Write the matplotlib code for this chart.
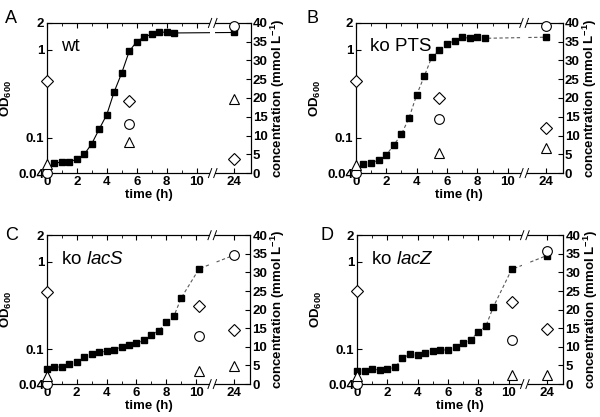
import numpy as np
import matplotlib
matplotlib.use('Agg')
import matplotlib.pyplot as plt
from matplotlib.patches import Rectangle

plt.rcParams['font.family'] = ['Liberation Sans', 'DejaVu Sans']
plt.rcParams['mathtext.fontset'] = 'custom'
plt.rcParams['mathtext.rm'] = 'Liberation Sans'
plt.rcParams['mathtext.bf'] = 'Liberation Sans:bold'
plt.rcParams['mathtext.it'] = 'Liberation Sans:italic'

# ---- data ----
# OD600 (left axis, filled squares)
t_ab = [0.5, 1, 1.5, 2, 2.5, 3, 3.5, 4, 4.5, 5, 5.5, 6, 6.5, 7, 7.5, 8, 8.5, 24]
od_wt = [0.052, 0.053, 0.054, 0.057, 0.065, 0.086, 0.126, 0.183, 0.334, 0.543,
         0.955, 1.23, 1.39, 1.49, 1.56, 1.58, 1.54, 1.56]
od_pts = [0.051, 0.052, 0.056, 0.064, 0.083, 0.110, 0.168, 0.306, 0.498, 0.824,
          0.981, 1.16, 1.26, 1.38, 1.34, 1.39, 1.34, 1.38]
t_cd = [0, 0.5, 1, 1.5, 2, 2.5, 3, 3.5, 4, 4.5, 5, 5.5, 6, 6.5, 7, 7.5, 8, 8.5, 9, 10.2, 24]
od_lacs = [0.059, 0.062, 0.063, 0.067, 0.071, 0.081, 0.087, 0.092, 0.095, 0.097, 0.107,
           0.112, 0.117, 0.126, 0.146, 0.163, 0.204, 0.237, 0.386, 0.83, 1.18]
od_lacz = [0.057, 0.057, 0.059, 0.058, 0.059, 0.062, 0.079, 0.088, 0.085, 0.090, 0.096,
           0.098, 0.098, 0.105, 0.118, 0.128, 0.157, 0.184, 0.306, 0.813, 1.17]

# concentrations (right axis, mmol/L) sampled at three times
t_samp_ab = [0, 5.5, 24]
t_samp_cd = [0, 10.2, 24]
diam = {'A': [24.4, 19.3, 3.8], 'B': [24.5, 19.9, 12.0],
        'C': [24.7, 21.0, 14.4], 'D': [24.9, 22.0, 14.7]}
circ = {'A': [0, 13.2, 39.3], 'B': [0, 14.3, 39.3],
        'C': [0, 12.8, 34.6], 'D': [0, 11.9, 35.7]}
tri = {'A': [2.3, 8.3, 19.6], 'B': [2.2, 5.4, 6.7],
       'C': [2.2, 3.4, 4.9], 'D': [2.2, 2.4, 2.5]}

panels = [
    ('A', 'wt', t_ab, od_wt, t_samp_ab, '-'),
    ('B', 'ko PTS', t_ab, od_pts, t_samp_ab, '--'),
    ('C', r'ko $\mathit{lacS}$', t_cd, od_lacs, t_samp_cd, '--'),
    ('D', r'ko $\mathit{lacZ}$', t_cd, od_lacz, t_samp_cd, '--'),
]

# broken time axis: 0..B1 then B2..XMAX
B1, B2, XMAX = 11.07, 22.57, 25.1
EPS = 1e-3


def fwd(t):
    t = np.asarray(t, float)
    return np.where(t <= B1, t,
                    np.where(t >= B2, B1 + (B2 - B1) * EPS + (t - B2),
                             B1 + (t - B1) * EPS))


def inv(x):
    x = np.asarray(x, float)
    xm = B1 + (B2 - B1) * EPS
    return np.where(x <= B1, x,
                    np.where(x >= xm, B2 + (x - xm), B1 + (x - B1) / EPS))


positions = {'A': [0.078, 0.585, 0.340, 0.360],
             'B': [0.593, 0.585, 0.345, 0.360],
             'C': [0.078, 0.079, 0.339, 0.357],
             'D': [0.595, 0.079, 0.344, 0.357]}
letter_pos = {'A': (0.008, 0.975), 'B': (0.51, 0.975),
              'C': (0.008, 0.455), 'D': (0.535, 0.455)}

fig = plt.figure(figsize=(6, 4.17), dpi=100)

for key, name, t, od, ts, ls in panels:
    ax = fig.add_axes(positions[key])
    ax.set_xscale('function', functions=(fwd, inv))
    ax.set_yscale('log')
    ax.set_xlim(0, XMAX)
    ax.set_ylim(0.04, 2)

    if ls == '-':
        ax.plot(t, od, ls='-', color='black', lw=0.8, zorder=2)
    else:
        ax.plot(t, od, ls='--', color='0.35', lw=0.8, dashes=(3, 2.2), zorder=2)
    ax.plot(t, od, ls='none', marker='s', ms=4.8, color='black', zorder=3, clip_on=False)

    ax.set_yticks([0.04, 0.1, 1, 2])
    ax.set_yticklabels(['0.04', '0.1', '1', '2'])
    ax.yaxis.set_minor_locator(matplotlib.ticker.NullLocator())
    ax.set_xticks([0, 2, 4, 6, 8, 10, 24])
    ax.set_xticks([1, 3, 5, 7, 9], minor=True)
    ax.tick_params(axis='both', which='both', direction='in', top=True, right=False,
                   labelsize=9.5, pad=2)
    ax.tick_params(which='major', length=3.5)
    ax.tick_params(which='minor', length=2)
    for lab in ax.get_xticklabels() + ax.get_yticklabels():
        lab.set_fontweight('bold')
    ax.set_xlabel('time (h)', fontsize=9.5, fontweight='bold', labelpad=1)
    ax.set_ylabel(r'OD$_{\mathbf{600}}$', fontsize=9.5, fontweight='bold', labelpad=3)

    ax2 = ax.twinx()
    ax2.set_ylim(0, 40)
    ax2.set_yticks(range(0, 41, 5))
    ax2.tick_params(axis='y', direction='in', length=3.5, labelsize=9.5, pad=1.5)
    for lab in ax2.get_yticklabels():
        lab.set_fontweight('bold')
    ax2.set_ylabel(r'concentration (mmol L$^{\mathbf{-1}}$)', fontsize=9.5,
                   fontweight='bold', labelpad=1)

    ax2.plot(ts, diam[key], ls='none', marker='D', ms=6.5, mfc='white', mec='black',
             mew=0.8, clip_on=False, zorder=4)
    ax2.plot(ts, circ[key], ls='none', marker='o', ms=7, mfc='white', mec='black',
             mew=0.8, clip_on=False, zorder=4)
    ax2.plot(ts, tri[key], ls='none', marker='^', ms=7, mfc='white', mec='black',
             mew=0.8, clip_on=False, zorder=4)

    # axis break
    xb = float(fwd(B1)) / float(fwd(XMAX))
    gap = 0.013
    ax2.add_patch(Rectangle((xb - gap, -0.02), 2 * gap, 1.04, transform=ax2.transAxes,
                            facecolor='white', edgecolor='none', clip_on=False, zorder=5))
    for yy in (0.0, 1.0):
        for xx in (xb - gap, xb + gap):
            ax2.plot([xx - 0.008, xx + 0.008], [yy - 0.03, yy + 0.03], color='black',
                     lw=0.7, transform=ax2.transAxes, clip_on=False, zorder=6)

    ax.text(0.07, 0.84, name, transform=ax.transAxes, fontsize=13.5, va='center', ha='left')
    fig.text(letter_pos[key][0], letter_pos[key][1], key, fontsize=13, va='top', ha='left')

fig.savefig('out.png', dpi=100)
